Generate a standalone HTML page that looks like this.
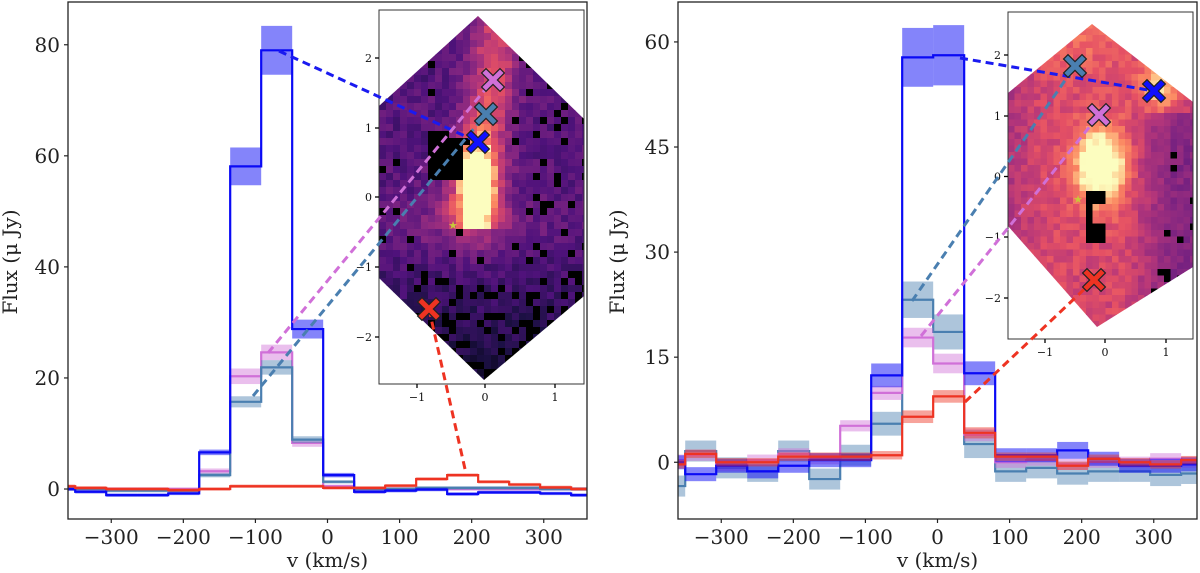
<!DOCTYPE html>
<html><head><meta charset="utf-8">
<style>
html,body{margin:0;padding:0;background:#fff;}
svg{display:block;font-family:"DejaVu Serif","Liberation Serif",serif;}
</style></head>
<body>
<svg id="fig" width="1200" height="573" viewBox="0 0 1200 573" xmlns="http://www.w3.org/2000/svg">
<defs>
<clipPath id="clipL"><rect x="68" y="2" width="519" height="517"/></clipPath>
<clipPath id="clipR"><rect x="678" y="2" width="519" height="517"/></clipPath>
<clipPath id="clipML"><polygon points="478,16 584,119 584,296 484,380 379,278 379,106"/></clipPath>
<clipPath id="clipMR"><polygon points="1092,24 1193,102 1193,267 1097,327 1008,226 1008,93"/></clipPath>
</defs>
<g id="root"></g>
</svg>
<script>
// ---- data ----
const binEdges = [-393,-350,-307,-264,-221,-178,-135,-92,-49,-6,37,80,123,166,209,252,295,338,381];
const xTicks = [-300,-200,-100,0,100,200,300];
const yTicksL = [0,20,40,60,80];
const yTicksR = [0,15,30,45,60];
// left panel
const blueL  = [0,-0.5,-1.1,-1.1,-0.8,6.6,58.1,79,28.8,2.5,-0.5,-0.3,-0.1,-0.9,-0.6,-0.6,-0.8,-1.1];
const blueLe = [0.3,0.3,0.3,0.3,0.3,0.5,3.4,4.4,1.7,0.4,0.3,0.3,0.3,0.3,0.3,0.3,0.3,0.3];
const steelL = [0,0,-0.3,-0.3,-0.3,2.5,15.7,21.9,8.9,1.3,0,0,0.2,0.2,0.2,0.2,0,0];
const steelLe= [0.3,0.3,0.3,0.3,0.3,0.4,1.0,1.3,0.6,0.3,0.3,0.3,0.3,0.3,0.3,0.3,0.3,0.3];
const violL  = [0,0,0,0,0,3.2,20.3,24.6,8.3,0.5,-0.5,0,0,0,0,0,0,0];
const violLe = [0.3,0.3,0.3,0.3,0.3,0.5,1.4,1.4,0.7,0.3,0.3,0.3,0.3,0.3,0.3,0.3,0.3,0.3];
const redL   = [0.5,0.2,0,0,-0.2,0,0.5,0.5,0.5,0.2,0.2,0.6,1.8,2.5,1.3,0.8,0.3,0];
const redLe  = [0.3,0.3,0.3,0.3,0.3,0.3,0.3,0.3,0.3,0.3,0.3,0.3,0.3,0.3,0.3,0.3,0.3,0.3];
// right panel
const blueR  = [0,-1.7,-0.5,-1.3,-0.5,0.3,0.3,12.4,57.8,58.1,12.7,1.0,1.0,1.7,0.5,-0.5,-0.5,-0.3];
const blueRe = [1.0,1.0,1.0,1.0,1.0,1.0,1.0,1.7,4.2,4.3,1.7,1.0,1.0,1.2,1.0,1.0,1.0,1.0];
const steelR = [-3.4,1.6,-0.8,-1.3,1.6,-2.4,1.0,5.5,23.2,18.6,2.6,-1.3,-0.8,-1.6,-1.3,-1.3,-1.8,-1.6];
const steelRe= [1.5,1.5,1.5,1.5,1.5,1.5,1.5,1.7,2.6,2.5,2.0,1.5,1.5,1.6,1.5,1.5,1.6,1.5];
const violR  = [0.3,1.0,-0.5,0.3,1.2,0.5,5.2,9.9,17.8,14.1,3.9,0,0.3,-0.3,0,0,0.5,0];
const violRe = [0.8,0.8,0.8,0.8,0.8,0.8,0.8,1.0,1.4,1.4,0.9,0.8,0.8,0.8,0.8,0.8,0.8,0.8];
const redR   = [-0.3,1.2,0,0,0.8,0.8,0.8,1.0,6.5,9.4,4.2,0.8,0.8,-0.5,0.5,0,-0.3,0.3];
const redRe  = [0.6,0.6,0.6,0.6,0.6,0.6,0.6,0.6,0.9,0.9,0.8,0.6,0.6,0.6,0.6,0.6,0.6,0.6];

const NS="http://www.w3.org/2000/svg";
const root=document.getElementById('root');
function mk(tag,attrs,parent){const e=document.createElementNS(NS,tag);for(const k in attrs)e.setAttribute(k,attrs[k]);(parent||root).appendChild(e);return e;}

const COL={blue:"#0a0af5",steel:"#4a7fb0",viol:"#d070d8",red:"#ee3322"};
const panels=[
 {id:'left',x0:68,x1:587,y0:2,y1:519,ymin:-5.4,ymax:87.7,yt:yTicksL,clip:'clipL',
  series:[['viol',violL,violLe],['steel',steelL,steelLe],['blue',blueL,blueLe],['red',redL,redLe]]},
 {id:'right',x0:678,x1:1197,y0:2,y1:519,ymin:-8.1,ymax:65.7,yt:yTicksR,clip:'clipR',
  series:[['steel',steelR,steelRe],['viol',violR,violRe],['blue',blueR,blueRe],['red',redR,redRe]]}
];
panels.forEach(p=>{
  const sx=v=>p.x0+(v+360)/720*(p.x1-p.x0);
  const sy=v=>p.y1-(v-p.ymin)/(p.ymax-p.ymin)*(p.y1-p.y0);
  const g=mk('g',{'clip-path':'url(#'+p.clip+')'});
  
  
  p.series.forEach(([c,vals,errs])=>{
    const sg=mk('g',{},g);
    
    
    vals.forEach((v,i)=>{
      const a=sx(binEdges[i]),b=sx(binEdges[i+1]);
      const r=mk('rect',{x:a,y:sy(v+errs[i]),width:b-a,height:sy(v-errs[i])-sy(v+errs[i]),fill:COL[c],'fill-opacity':c=='blue'?0.5:0.45},sg);
      
      
    });
    let d='';
    vals.forEach((v,i)=>{
      const a=sx(binEdges[i]),b=sx(binEdges[i+1]);
      d+=(i==0?'M':'L')+a+','+sy(v)+'L'+b+','+sy(v);
    });
    const pth=mk('path',{d:d,fill:'none',stroke:COL[c],'stroke-width':2.2},sg);
    
    
  });
  const fr=mk('rect',{x:p.x0,y:p.y0,width:p.x1-p.x0,height:p.y1-p.y0,fill:'none',stroke:'#222','stroke-width':1.3});
  
  
  xTicks.forEach(t=>{
    mk('line',{x1:sx(t),x2:sx(t),y1:p.y1,y2:p.y1+4,stroke:'#222','stroke-width':1.2});
    const tx=mk('text',{x:sx(t),y:p.y1+25,'font-size':20,'text-anchor':'middle',fill:'#222'});
    tx.textContent=t<0?'\u2212'+(-t):String(t);
    
    
  });
  p.yt.forEach(t=>{
    mk('line',{x1:p.x0-4,x2:p.x0,y1:sy(t),y2:sy(t),stroke:'#222','stroke-width':1.2});
    const tx=mk('text',{x:p.x0-8,y:sy(t)+7,'font-size':20,'text-anchor':'end',fill:'#222'});
    tx.textContent=String(t);
    
    
  });
  const xl=mk('text',{x:(p.x0+p.x1)/2,y:567,'font-size':20,'text-anchor':'middle',fill:'#222'});
  xl.textContent='v (km/s)';
  
  
  const yx=p.id=='left'?17:624;
  const yl=mk('text',{x:yx,y:262,'font-size':20,'text-anchor':'middle',fill:'#222',transform:'rotate(-90 '+yx+' 262)'});
  yl.textContent='Flux (\u03bc Jy)';
  
  
});

// ---- inset maps (image) ----
const magma=[[0,[0,0,4]],[0.15,[28,16,68]],[0.3,[79,18,123]],[0.45,[129,37,129]],[0.6,[181,54,122]],[0.72,[229,80,100]],[0.85,[251,135,97]],[0.93,[254,194,135]],[1,[252,253,191]]];
function cmap(v){v=Math.max(0,Math.min(1,v));for(let i=1;i<magma.length;i++){if(v<=magma[i][0]){const[a,ca]=magma[i-1],[b,cb]=magma[i];const t=(v-a)/(b-a);return 'rgb('+ca.map((c,k)=>Math.round(c+(cb[k]-c)*t)).join(',')+')';}}return 'rgb(252,253,191)';}
function hash(i,j,s){let h=Math.sin(i*127.1+j*311.7+s*74.7)*43758.5453;return h-Math.floor(h);}
function gauss(x,y,cx,cy,sx,sy){return Math.exp(-((x-cx)**2/(2*sx*sx)+(y-cy)**2/(2*sy*sy)));}
function drawMap(name,bx,by,bw,bh,cell,clip,fn){
  const g=mk('g',{'clip-path':'url(#'+clip+')'});
  
  
  for(let y=by,j=0;y<by+bh;y+=cell,j++)for(let x=bx,i=0;x<bx+bw;x+=cell,i++){
    const v=fn(x+cell/2,y+cell/2,i,j);
    mk('rect',{x:x,y:y,width:cell+0.4,height:cell+0.4,fill:v<0?'#000':cmap(v)},g);
  }
}
drawMap('left-inset-map',379,12,206,372,7,'clipML',(x,y,i,j)=>{
  const n=hash(i,j,1);
  let v=0.32+(n-0.5)*0.16-Math.max(0,(y-230))/700;
  const t=(y-20)/180; const rx=500-25*Math.max(0,Math.min(1,t));
  if(y<230) v+=0.38*Math.exp(-((x-rx)**2)/(2*18*18));
  v+=0.6*gauss(x,y,477,182,14,30);
  v+=0.15*gauss(x,y,465,225,45,25);
  if(x>428&&x<462&&y>128&&y<180&&!(x>450&&y<140)) return -1;
  const thr=0.03+Math.max(0,(y-230))/600+(x>525?0.1:0);
  if(n<thr) return -1;
  return v;
});
drawMap('right-inset-map',1008,22,186,306,6.5,'clipMR',(x,y,i,j)=>{
  const n=hash(i,j,2);
  let v=0.68+(n-0.5)*0.12;
  v-=0.22*Math.max(0,Math.min(1,(x-1125)/50))*(y>115?1:0.3);
  v-=0.1*Math.max(0,Math.min(1,(1040-x)/30));
  v+=0.1*gauss(x,y,1085,40,30,25);
  v+=0.5*gauss(x,y,1100,165,18,28);
  v+=0.35*gauss(x,y,1160,85,15,18);
  if(x>1083&&x<1103&&y>190&&y<245&&!(x>1095&&y>205&&y<225)) return -1;
  if(x>1150&&n>0.94&&y>150) return -1;
  return v;
});
// inset frames and ticks
const insets=[
 {name:'left-inset',x:379,y:10,w:205,h:374,xt:[[-1,417],[0,485],[1,555]],yt:[[2,58],[1,128],[0,197],[-1,267],[-2,337]],
  star:[453,225],marks:[['viol',493,80],['steel',486,114],['blue',478,142],['red',429,309]]},
 {name:'right-inset',x:1008,y:12,w:185,h:327,xt:[[-1,1045],[0,1105],[1,1166]],yt:[[2,55],[1,116],[0,176.5],[-1,237],[-2,298]],
  star:[1078,199],marks:[['steel',1075,66],['viol',1099,115],['blue',1154,91],['red',1094,280]]}
];
insets.forEach(ins=>{
  const f=mk('rect',{x:ins.x,y:ins.y,width:ins.w,height:ins.h,fill:'none',stroke:'#333','stroke-width':1});
  
  
  ins.xt.forEach(([v,px])=>{
    mk('line',{x1:px,x2:px,y1:ins.y+ins.h,y2:ins.y+ins.h+4,stroke:'#000','stroke-width':1.3});
    const t=mk('text',{x:px,y:ins.y+ins.h+17,'font-size':11,'text-anchor':'middle',fill:'#111'});
    t.textContent=v<0?'\u2212'+(-v):String(v);
    
    
  });
  ins.yt.forEach(([v,py])=>{
    mk('line',{x1:ins.x-4,x2:ins.x,y1:py,y2:py,stroke:'#000','stroke-width':1.3});
    const t=mk('text',{x:ins.x-7,y:py+4,'font-size':11,'text-anchor':'end',fill:'#111'});
    t.textContent=v<0?'\u2212'+(-v):String(v);
    
    
  });
  const st=mk('text',{x:ins.star[0],y:ins.star[1]+4,'font-size':11,'text-anchor':'middle',fill:'#c8c83a'});
  st.textContent='\u2605';
  
  
});
// connector lines
const conns=[
 ['blue',279,51,478,142],['viol',268,353,493,80],['steel',253,396,486,114],['red',429,309,465,469],
 ['blue',960,58,1154,91],['steel',912,301,1075,66],['viol',921,336,1099,115],['red',965,402,1094,280]
];
conns.forEach(([c,a,b,d,e])=>{
  const l=mk('line',{x1:a,y1:b,x2:d,y2:e,stroke:c=='blue'?'#1a1af0':COL[c],'stroke-width':3,'stroke-dasharray':'8,5'});
  
  
});
insets.forEach(ins=>{
  ins.marks.forEach(([c,x,y])=>{
    const s=7;
    const d='M'+(x-s)+','+(y-s)+'L'+(x+s)+','+(y+s)+'M'+(x+s)+','+(y-s)+'L'+(x-s)+','+(y+s);
    const g=mk('g',{});
    
    
    mk('path',{d:d,stroke:'#222','stroke-width':7.5,'stroke-linecap':'square'},g);
    mk('path',{d:d,stroke:COL[c]=='#0a0af5'?'#1010ff':COL[c],'stroke-width':5,'stroke-linecap':'square'},g);
  });
});
</script>
</body></html>
